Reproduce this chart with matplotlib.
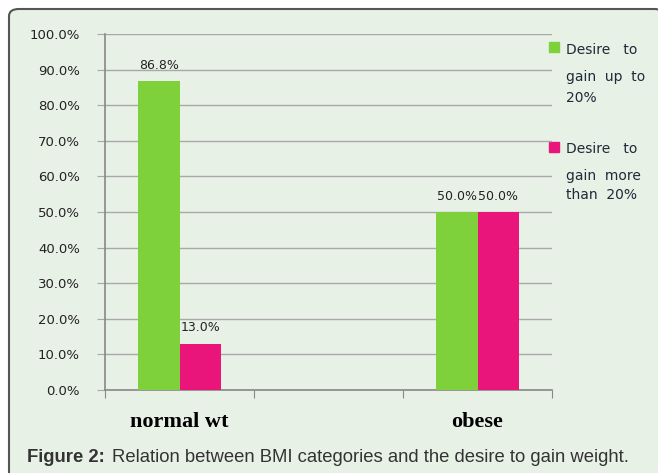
import matplotlib.pyplot as plt
import numpy as np
from matplotlib.patches import FancyBboxPatch

# --- datos ---
categorias = ["normal wt", "", "obese"]
hasta_20 = [86.8, np.nan, 50.0]
mas_20 = [13.0, np.nan, 50.0]
etiquetas_y = ["0.0%", "10.0%", "20.0%", "30.0%", "40.0%", "50.0%",
               "60.0%", "70.0%", "80.0%", "90.0%", "100.0%"]

verde = "#7FD13B"
rosa = "#EA157A"
fondo = "#E8F1E6"

fig = plt.figure(figsize=(6.58, 4.73), dpi=100)
fig.patch.set_facecolor("white")

# marco redondeado
marco = FancyBboxPatch((9 / 658, -0.05), 655 / 658, (473 - 9) / 473 + 0.05,
                       boxstyle="round,pad=0,rounding_size=0.015",
                       transform=fig.transFigure, facecolor=fondo,
                       edgecolor="#555555", linewidth=1.5, zorder=-5)
fig.patches.append(marco)

ax = fig.add_axes([105 / 658, 1 - 390 / 473, (552 - 105) / 658, (390 - 34) / 473])
ax.set_facecolor("none")
ax.set_zorder(2)

x = np.arange(len(categorias))
ancho = 0.28
ax.bar(x - ancho / 2, hasta_20, ancho, color=verde, zorder=3)
ax.bar(x + ancho / 2, mas_20, ancho, color=rosa, zorder=3)

for xi, v in zip(x, hasta_20):
    if not np.isnan(v):
        ax.text(xi - ancho / 2, v + 2.6, f"{v:.1f}%", ha="center", va="bottom",
                fontsize=9, color="#222222")
for xi, v in zip(x, mas_20):
    if not np.isnan(v):
        ax.text(xi + ancho / 2, v + 2.6, f"{v:.1f}%", ha="center", va="bottom",
                fontsize=9, color="#222222")

ax.set_xlim(-0.5, 2.5)
ax.set_ylim(0, 100)
ax.set_yticks(np.arange(0, 101, 10))
ax.set_yticklabels(etiquetas_y, fontsize=9.5, color="#222222")
ax.yaxis.grid(True, color="#A8A8A8", linewidth=1.0, zorder=0)
ax.set_axisbelow(True)
ax.tick_params(axis="y", length=6, color="#A8A8A8", pad=12)

ax.set_xticks([-0.5, 0.5, 1.5, 2.5])
ax.set_xticklabels([])
ax.tick_params(axis="x", length=6, color="#888888", direction="out")
for xi, c in zip(x, categorias):
    ax.text(xi, -9, c, ha="center", va="center", fontsize=16,
            fontfamily="Liberation Serif", fontweight="bold",
            transform=ax.transData)

for lado in ["top", "right"]:
    ax.spines[lado].set_visible(False)
ax.spines["left"].set_color("#888888")
ax.spines["bottom"].set_color("#888888")
ax.spines["left"].set_linewidth(1.2)
ax.spines["bottom"].set_linewidth(1.2)

# leyenda manual
fig.patches.append(plt.Rectangle((549 / 658, 1 - 52 / 473), 10 / 658, 10 / 473,
                                 transform=fig.transFigure, color=verde))
fig.patches.append(plt.Rectangle((549 / 658, 1 - 152 / 473), 10 / 658, 10 / 473,
                                 transform=fig.transFigure, color=rosa))
estilo = dict(fontsize=10, color="#1F2A3A", transform=fig.transFigure,
              va="center", ha="left")
fig.text(566 / 658, 1 - 50 / 473, "Desire   to", **estilo)
fig.text(566 / 658, 1 - 77 / 473, "gain  up  to", **estilo)
fig.text(566 / 658, 1 - 98 / 473, "20%", **estilo)
fig.text(566 / 658, 1 - 149 / 473, "Desire   to", **estilo)
fig.text(566 / 658, 1 - 176 / 473, "gain  more", **estilo)
fig.text(566 / 658, 1 - 195 / 473, "than  20%", **estilo)

# pie de figura
fig.text(27 / 658, 1 - 457 / 473, "Figure 2:", fontsize=13.3, fontweight="bold",
         fontfamily="Liberation Sans", color="#333333", va="center")
fig.text(112 / 658, 1 - 457 / 473,
         "Relation between BMI categories and the desire to gain weight.",
         fontsize=13.3, fontfamily="Liberation Sans", color="#333333", va="center")

plt.savefig("out.png", dpi=100, facecolor=fig.get_facecolor())
